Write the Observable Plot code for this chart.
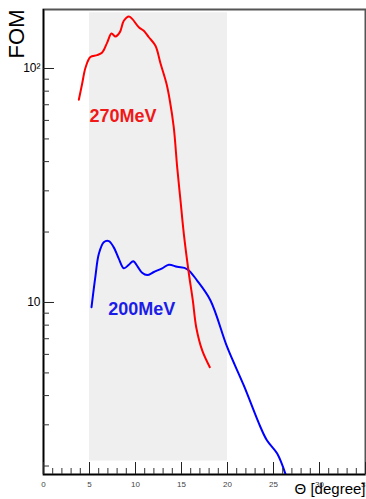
<!DOCTYPE html>
<html><head><meta charset="utf-8">
<script src="https://cdn.jsdelivr.net/npm/d3@7"></script>
<script src="https://cdn.jsdelivr.net/npm/@observablehq/plot@0.6"></script>
<style>body{margin:0;background:#fff}#chart svg{font-family:"Liberation Sans",Arial,sans-serif;background:#fff}</style>
</head><body><div id="chart"></div>
<script>
// 270 MeV curve (theta in degrees, FOM)
const redX = [3.84, 4.2, 4.57, 5.1, 5.83, 6.38, 6.92, 7.39, 7.83, 8.3, 8.73, 9.28, 9.64, 10.36, 10.9, 11.45, 12.17, 12.72, 13.37, 13.73, 14.16, 14.53, 14.89, 15.25, 15.8, 16.23, 16.6, 17.25, 18.08];
const redY = [73.5, 86, 101, 112, 114, 117, 129, 141, 137, 143, 160, 167, 163, 150, 145, 136, 125, 105, 86, 73, 56, 37.9, 27.3, 19.7, 13.3, 10.2, 7.84, 6.24, 5.29];
// 200 MeV curve
const blueX = [5.22, 5.65, 6.01, 6.55, 7.1, 7.64, 8.18, 8.73, 9.28, 9.75, 10.25, 10.72, 11.27, 12.0, 12.9, 13.62, 14.53, 15.6, 16.7, 18.15, 19.97, 21.77, 23.59, 24.3, 25.4, 26.4];
const blueY = [9.55, 13.0, 16.1, 18.1, 18.3, 17.2, 15.4, 14.0, 14.5, 15.0, 14.2, 13.4, 13.1, 13.5, 14.0, 14.5, 14.2, 13.9, 12.4, 10.2, 6.44, 4.42, 2.93, 2.57, 2.26, 1.80];
const seriesNames = ["270MeV", "200MeV"];
const seriesColors = ["#ff0000", "#0000ff"];
const labelColors = ["#f01818", "#1c1ce8"];
const labelX = [5.0, 7.03];
const labelY = [58.8, 8.8];
// shaded angular range
const bandX = [5, 20];
const bandY = [2.1, 173];
const xDomain = [0, 35];
const yDomain = [1.84, 178.7];
const xMajor = [0, 5, 10, 15, 20, 25, 30, 35];
const xMinor = [1, 2, 3, 4, 6, 7, 8, 9, 11, 12, 13, 14, 16, 17, 18, 19, 21, 22, 23, 24, 26, 27, 28, 29, 31, 32, 33, 34];
const yMajor = [10, 100];
const yTickLabels = ["10", "10\u00B2"];
const yMinor = [2, 3, 4, 5, 6, 7, 8, 9, 20, 30, 40, 50, 60, 70, 80, 90];
const xTitle = "\u0398 [degree]";
const yTitle = "FOM";

const red = redX.map((x, i) => ({x, y: redY[i]}));
const blue = blueX.map((x, i) => ({x, y: blueY[i]}));
const band = [{x1: bandX[0], x2: bandX[1], y1: bandY[0], y2: bandY[1]}];
const labels = seriesNames.map((name, i) => ({name, x: labelX[i], y: labelY[i], c: labelColors[i]}));

const chart = Plot.plot({
  width: 366,
  height: 499,
  marginLeft: 43,
  marginRight: 1,
  marginTop: 9,
  marginBottom: 25,
  style: {fontFamily: "Liberation Sans, Arial, sans-serif", background: "#fff"},
  x: {domain: xDomain, axis: null},
  y: {type: "log", domain: yDomain, axis: null},
  marks: [
    Plot.rect(band, {x1: "x1", x2: "x2", y1: "y1", y2: "y2", fill: "#efefef"}),
    Plot.frame({stroke: "#555", strokeWidth: 2}),
    Plot.line(blue, {x: "x", y: "y", stroke: seriesColors[1], strokeWidth: 2, curve: "catmull-rom", clip: true}),
    Plot.line(red, {x: "x", y: "y", stroke: seriesColors[0], strokeWidth: 2, curve: "catmull-rom", clip: true}),
    Plot.text(labels, {x: "x", y: "y", text: "name", fill: "c", fontSize: 18, fontWeight: "bold", textAnchor: "start", lineAnchor: "bottom"}),
    // axis lines
    Plot.ruleX([xDomain[0]], {stroke: "#000", strokeWidth: 1.5}),
    Plot.ruleY([yDomain[0]], {stroke: "#000", strokeWidth: 1.5}),
    // x ticks (pointing inward)
    Plot.axisX({ticks: xMajor, tickSize: -12, tickFormat: () => "", stroke: "#222"}),
    Plot.axisX({ticks: xMinor, tickSize: -6, tickFormat: () => "", stroke: "#333"}),
    Plot.axisX({ticks: xMajor, tickSize: 0, tickPadding: 7, fontSize: 8, fill: "#444"}),
    // y ticks
    Plot.axisY({ticks: yMajor, tickSize: -11, tickFormat: () => "", stroke: "#222"}),
    Plot.axisY({ticks: yMinor, tickSize: -6, tickFormat: () => "", stroke: "#333"}),
    Plot.axisY({ticks: yMajor, tickSize: 0, tickPadding: 3, fontSize: 12, fill: "#000", tickFormat: d => yTickLabels[yMajor.indexOf(d)]}),
    // titles
    Plot.text([xTitle], {frameAnchor: "bottom-right", text: d => d, textAnchor: "end", lineAnchor: "bottom", dy: 19, fontSize: 15, fill: "#000"}),
    Plot.text([yTitle], {frameAnchor: "top-left", text: d => d, rotate: -90, textAnchor: "end", lineAnchor: "middle", dx: -26.5, dy: 0, fontSize: 22, fill: "#000"})
  ]
});
document.getElementById("chart").append(chart);
</script>
</body></html>
